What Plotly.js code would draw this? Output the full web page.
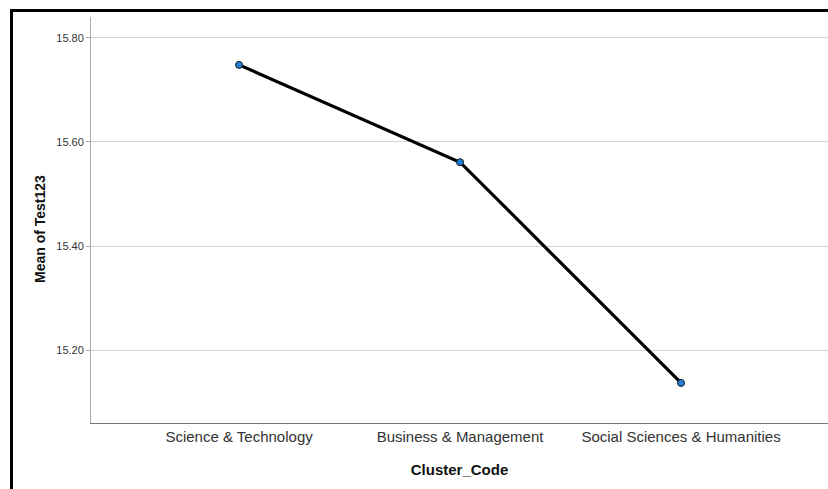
<!DOCTYPE html>
<html>
<head>
<meta charset="utf-8">
<script src="https://cdn.plot.ly/plotly-3.0.1.min.js"></script>
<style>
  html, body { margin: 0; padding: 0; background: #fff; }
  #wrap { position: relative; width: 828px; height: 489px; overflow: hidden; }
  #chart { position: absolute; left: 0; top: 0; width: 828px; height: 489px; }
  #frame { position: absolute; left: 10px; top: 9px; width: 830px; height: 500px;
           border-left: 3px solid #000; border-top: 3px solid #000; pointer-events: none; }
</style>
</head>
<body>
<div id="wrap">
  <div id="chart"></div>
  <div id="frame"></div>
</div>
<script>
const categories = ["Science & Technology", "Business & Management", "Social Sciences & Humanities"];
const meanValues = [15.748, 15.561, 15.137];
const yTickValues = [15.2, 15.4, 15.6, 15.8];
const yTickLabels = ["15.20", "15.40", "15.60", "15.80"];
const xTitle = "Cluster_Code";
const yTitle = "Mean of Test123";

const trace = {
  type: "scatter",
  mode: "lines+markers",
  x: categories,
  y: meanValues,
  line: { color: "#000000", width: 3.2 },
  marker: { color: "#1f7fd8", size: 7, line: { color: "#1a1a1a", width: 1 } },
  hoverinfo: "x+y",
  showlegend: false
};

const layout = {
  width: 828,
  height: 489,
  margin: { l: 91, r: 0, t: 17, b: 66, pad: 0 },
  paper_bgcolor: "#ffffff",
  plot_bgcolor: "#ffffff",
  font: { family: "Liberation Sans, Arial, sans-serif", color: "#333333" },
  xaxis: {
    type: "category",
    range: [-0.67, 2.665],
    showline: true,
    linecolor: "#777777",
    linewidth: 1,
    showgrid: false,
    zeroline: false,
    ticks: "",
    tickfont: { size: 15, color: "#333333" },
    title: { text: xTitle, font: { size: 15, color: "#111111", family: "Liberation Sans, Arial, sans-serif", weight: "bold" }, standoff: 20 },
    automargin: false
  },
  yaxis: {
    range: [15.06, 15.84],
    tickvals: yTickValues,
    ticktext: yTickLabels,
    showline: true,
    linecolor: "#aaaaaa",
    linewidth: 1,
    showgrid: true,
    gridcolor: "#d4d4d4",
    gridwidth: 1,
    zeroline: false,
    ticks: "outside",
    ticklen: 4,
    tickcolor: "#aaaaaa",
    tickfont: { size: 11, color: "#333333" },
    automargin: false
  },
  annotations: [{
    text: "<b>" + yTitle + "</b>",
    xref: "paper", yref: "paper",
    x: 0, y: 0.5,
    xanchor: "center", yanchor: "middle",
    xshift: -51, yshift: -9,
    textangle: -90,
    showarrow: false,
    font: { size: 14, color: "#111111", family: "Liberation Sans, Arial, sans-serif" }
  }]
};

Plotly.newPlot("chart", [trace], layout, { staticPlot: true, displayModeBar: false });
</script>
</body>
</html>
